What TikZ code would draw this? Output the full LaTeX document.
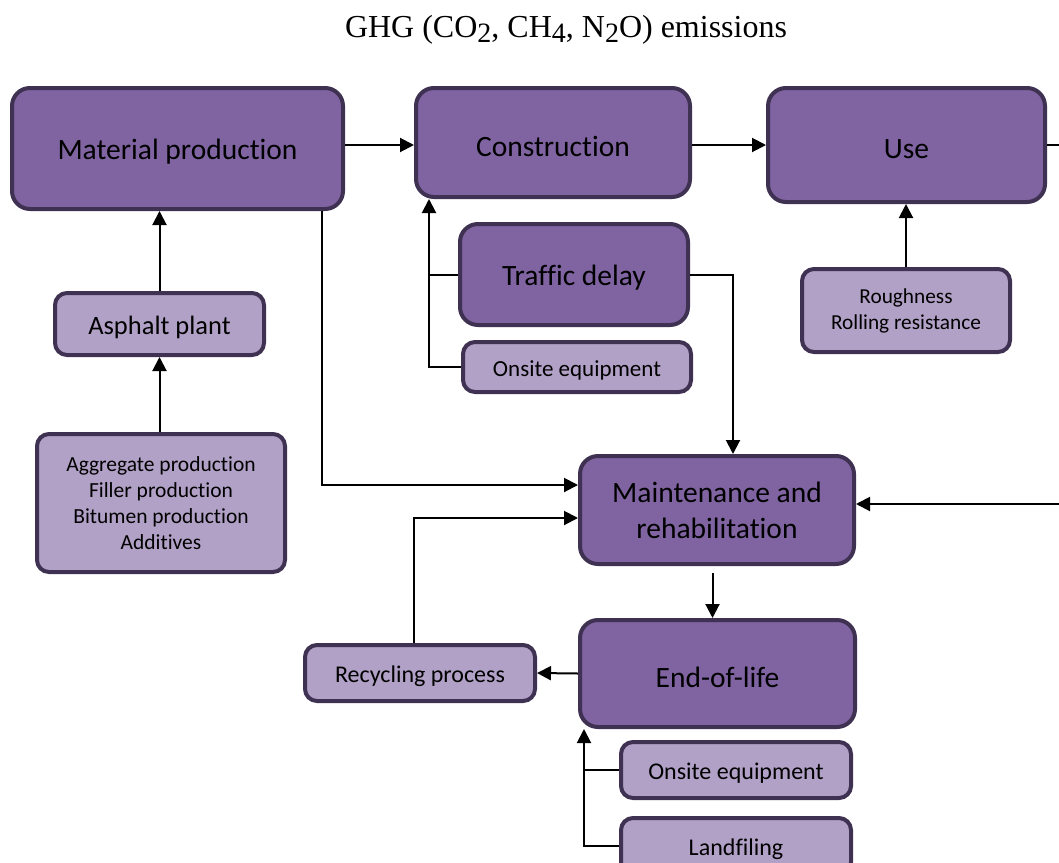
\documentclass[tikz,border=0pt]{standalone}
\usepackage{fontspec}
\setmainfont{Liberation Serif}
\newfontfamily\boxfont[Ligatures={NoCommon}]{Carlito}
\usetikzlibrary{arrows.meta}

\definecolor{stagefill}{HTML}{8064A2}
\definecolor{subfill}{HTML}{B2A1C7}
\definecolor{edgeline}{HTML}{3F3151}

\newcommand{\lowdigit}[1]{\raisebox{-0.16em}{\fontsize{28}{28}\selectfont #1}}
% a taller first line sets the box text a little below the centre
\newcommand{\lowerstrut}{\rule{0pt}{\dimexpr0.72em+6pt\relax}}

\tikzset{
  stagebox/.style={draw=edgeline, fill=stagefill, line width=4pt,
    rounded corners=18pt, align=center, inner sep=0pt,
    font=\boxfont\fontsize{29.5}{36}\selectfont,
    execute at begin node=\lowerstrut},
  subbox/.style={draw=edgeline, fill=subfill, line width=4pt,
    rounded corners=12pt, align=center, inner sep=0pt,
    font=\boxfont\fontsize{23}{26}\selectfont,
    execute at begin node=\lowerstrut},
  flow/.style={line width=2pt, -{Triangle[length=14pt,width=14pt]}},
  plain/.style={line width=2pt}
}

\begin{document}
\begin{tikzpicture}[x=1pt, y=-1pt]
\useasboundingbox (0,0) rectangle (1059,862);
\clip (0,0) rectangle (1059,862);

% heading
\node[font=\fontsize{32}{36}\selectfont] (title) at (566,30)
  {GHG (CO\lowdigit{2}, CH\lowdigit{4}, N\lowdigit{2}O) emissions};

% life-cycle stages
\node[stagebox, minimum width=331, minimum height=121] (material) at (177.5,148.5) {Material production};
\node[stagebox, minimum width=274, minimum height=109] (construction) at (553,142.5) {Construction};
\node[stagebox, minimum width=277, minimum height=114] (use) at (906.5,145) {Use};
\node[stagebox, minimum width=228, minimum height=101] (traffic) at (574,274.5) {Traffic delay};
\node[stagebox, minimum width=274, minimum height=108, execute at begin node={}] (maint) at (717,510) {Maintenance and\\rehabilitation};
\node[stagebox, minimum width=275, minimum height=107] (eol) at (717.5,673.5) {End-of-life};

% contributing processes
\node[subbox, minimum width=228, minimum height=50] (onsiteA) at (577,367) {Onsite equipment};
\node[subbox, minimum width=208, minimum height=83, font=\boxfont\fontsize{21.3}{26}\selectfont] (rough) at (906,310.5) {Roughness\\Rolling resistance};
\node[subbox, minimum width=209, minimum height=62, font=\boxfont\fontsize{26.5}{30}\selectfont] (asphalt) at (159.5,324) {Asphalt plant};
\node[subbox, minimum width=248, minimum height=138, font=\boxfont\fontsize{21.5}{26}\selectfont] (aggregate) at (161,503)
  {Aggregate production\\Filler production\\Bitumen production\\Additives};
\node[subbox, minimum width=230, minimum height=56, font=\boxfont\fontsize{24}{28}\selectfont] (recycling) at (420,673) {Recycling process};
\node[subbox, minimum width=230, minimum height=56, font=\boxfont\fontsize{24}{28}\selectfont] (onsiteB) at (736,770) {Onsite equipment};
\node[subbox, minimum width=230, minimum height=56, font=\boxfont\fontsize{24}{28}\selectfont] (landfill) at (736,846) {Landfiling};

% junction points of the collecting lines
\coordinate (cin) at ([xshift=-124]construction.south);
\coordinate (ein) at ([xshift=-133.5]eol.south);

% main chain
\draw[flow] (material.east |- use.east) -- (construction.west |- use.east);
\draw[flow] (construction.east |- use.east) -- (use.west);
\draw[flow] (use.east) -- ++(45,0) |- ([yshift=6]maint.east);

% material supply
\draw[flow] (asphalt.south |- aggregate.north) -- (asphalt.south);
\draw[flow] (asphalt.north) -- (asphalt.north |- material.south);
\draw[flow] ([xshift=144.5]material.south) |- ([yshift=25]maint.west);

% construction inputs
\draw[flow] (onsiteA.west) -| (cin);
\draw[plain] (traffic.west) -- (traffic.west -| cin);
\draw[flow] (traffic.east) -| ([xshift=16]maint.north);

% use phase input
\draw[flow] (rough.north) -- (rough.north |- use.south);

% maintenance and end-of-life
\draw[flow] ([xshift=-4.5,yshift=-7]maint.south) -- ([xshift=-5]eol.north);
\draw[flow] (eol.west) -- (recycling.east);
\draw[flow] ([xshift=-6]recycling.north) |- ([yshift=-8]maint.west);
\draw[flow] (landfill.west) -| (ein);
\draw[plain] (onsiteB.west) -- (onsiteB.west -| ein);
\end{tikzpicture}
\end{document}
